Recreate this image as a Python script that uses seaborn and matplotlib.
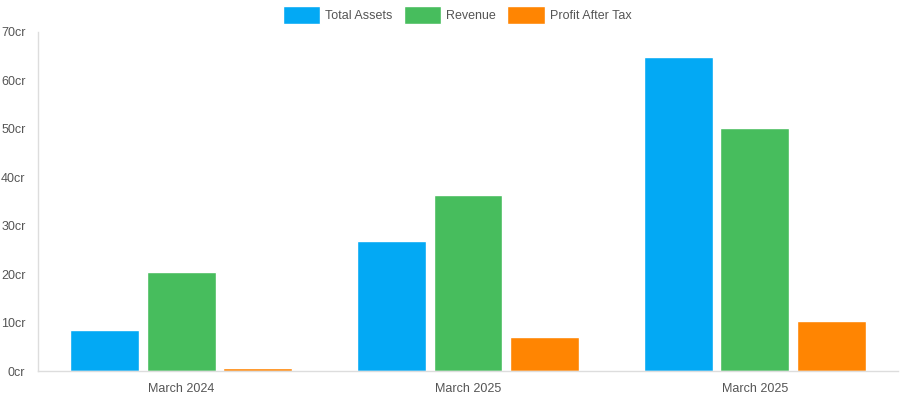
import matplotlib
matplotlib.use("Agg")
import matplotlib.pyplot as plt
import seaborn as sns
import pandas as pd

# data (values in crore)
periods = ["March 2024", "March 2025", "March 2025"]
total_assets = [8.5, 26.8, 64.8]
revenue = [20.4, 36.3, 50.1]
profit_after_tax = [0.7, 7.0, 10.3]

series_names = ["Total Assets", "Revenue", "Profit After Tax"]
colors = ["#03a9f4", "#47bd5d", "#ff8502"]

rows = []
for i in range(len(periods)):
    rows.append({"pos": i, "series": "Total Assets", "value": total_assets[i]})
    rows.append({"pos": i, "series": "Revenue", "value": revenue[i]})
    rows.append({"pos": i, "series": "Profit After Tax", "value": profit_after_tax[i]})
df = pd.DataFrame(rows)

sns.set_style("white")
plt.rcParams['font.family'] = ['Liberation Sans', 'DejaVu Sans']

fig = plt.figure(figsize=(9, 4), dpi=100)
ax = fig.add_axes([38/900, 29/400, 860/900, 339/400])

sns.barplot(data=df, x="pos", y="value", hue="series", hue_order=series_names,
            palette=colors, width=0.8, gap=0.1, ax=ax, saturation=1,
            errorbar=None, legend=True)

ax.set_ylim(0, 70)
ax.set_xlim(-0.5, len(periods) - 0.5)
ax.set_yticks(range(0, 71, 10))
ax.set_yticklabels([f"{v}cr" for v in range(0, 71, 10)])
ax.set_xticks(range(len(periods)))
ax.set_xticklabels(periods)
ax.set_xlabel("")
ax.set_ylabel("")
ax.tick_params(axis="both", length=0, labelsize=9, labelcolor="#555555")
ax.tick_params(axis="x", pad=9)
ax.tick_params(axis="y", pad=9)

for side in ["top", "right"]:
    ax.spines[side].set_visible(False)
for side in ["left", "bottom"]:
    ax.spines[side].set_color("#dddddd")
    ax.spines[side].set_linewidth(1)

# legend centred a little left of the axes centre, like the reference
ax.legend(loc="upper center", bbox_to_anchor=(457/900, 1.0), bbox_transform=fig.transFigure,
          ncol=3, frameon=False, fontsize=9, labelcolor="#555555",
          handlelength=3.0, handleheight=1.8, handletextpad=0.4,
          columnspacing=0.9, borderaxespad=0.1)

fig.savefig("out.png", dpi=100)
